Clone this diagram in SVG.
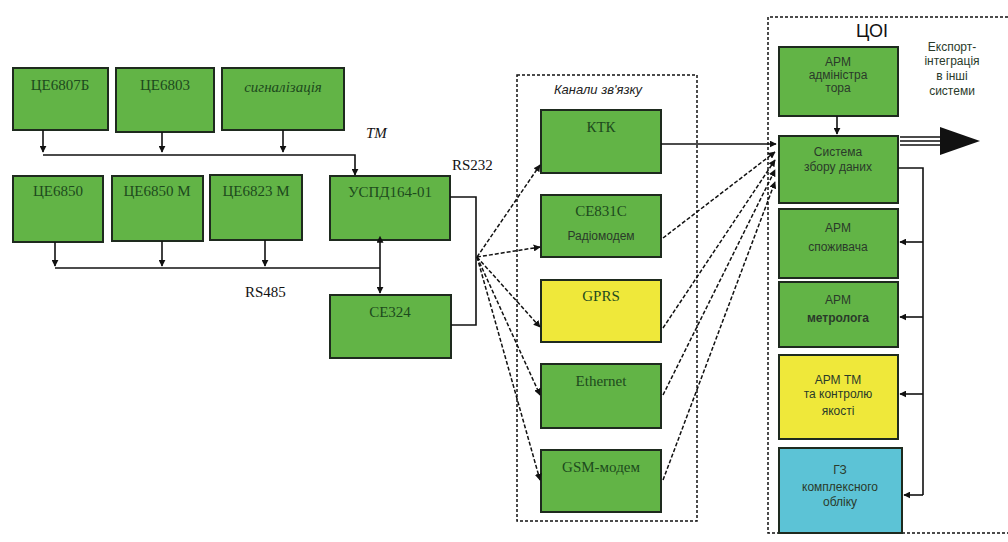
<svg xmlns="http://www.w3.org/2000/svg" width="1008" height="542" viewBox="0 0 1008 542">
<style>
.g{fill:#62b446;stroke:#1e2a1e;stroke-width:2}
.y{fill:#efe83a;stroke:#1e2a1e;stroke-width:2}
.c{fill:#5cc3d6;stroke:#1e2a1e;stroke-width:2}
.st{font-family:"Liberation Serif",serif;font-size:15px;fill:#1d4a1d;text-anchor:middle}
.ss{font-family:"Liberation Sans",sans-serif;font-size:12px;fill:#2a3a2a;text-anchor:middle}
.lb{font-family:"Liberation Serif",serif;font-size:15px;fill:#111}
.ln{fill:none;stroke:#111;stroke-width:1.6}
.dl{fill:none;stroke:#111;stroke-width:1.5;stroke-dasharray:4 2}
.fr{fill:none;stroke:#111;stroke-width:1.5;stroke-dasharray:3 2}
</style>
<defs>
<marker id="ah" viewBox="0 0 10 10" refX="9" refY="5" markerWidth="7" markerHeight="7" markerUnits="userSpaceOnUse" orient="auto">
<path d="M0,0 L10,5 L0,10 Z" fill="#111"/>
</marker>
<marker id="ahs" viewBox="0 0 10 10" refX="1" refY="5" markerWidth="7" markerHeight="7" markerUnits="userSpaceOnUse" orient="auto-start-reverse">
<path d="M0,0 L10,5 L0,10 Z" fill="#111"/>
</marker>
</defs>
<rect width="1008" height="542" fill="#fff"/>

<g id="frame-channels">
<rect x="517" y="75" width="180" height="446" class="fr"/>
<text x="598" y="94" font-family="Liberation Sans,sans-serif" font-size="13" font-style="italic" fill="#222" text-anchor="middle">Канали зв'язку</text>
</g>
<g id="frame-coi">
<path d="M1008,17 H768 V533 H1008" class="fr"/>
<text x="872" y="37" font-family="Liberation Sans,sans-serif" font-size="18" fill="#111" text-anchor="middle">ЦОІ</text>
</g>

<g id="n-ce6807b"><rect x="13" y="68" width="95" height="62" class="g"/><text x="60" y="90" class="st">ЦЕ6807Б</text></g>
<g id="n-ce6803"><rect x="116" y="68" width="98" height="64" class="g"/><text x="165" y="90" class="st">ЦЕ6803</text></g>
<g id="n-signal"><rect x="222" y="68" width="122" height="62" class="g"/><text x="283" y="92" class="st" font-style="italic" font-size="13">сигналізація</text></g>
<g id="n-ce6850"><rect x="13" y="176" width="90" height="66" class="g"/><text x="58" y="196" class="st">ЦЕ6850</text></g>
<g id="n-ce6850m"><rect x="112" y="176" width="91" height="65" class="g"/><text x="157" y="196" class="st">ЦЕ6850 М</text></g>
<g id="n-ce6823m"><rect x="210" y="175" width="92" height="65" class="g"/><text x="256" y="196" class="st">ЦЕ6823 М</text></g>
<g id="n-uspd"><rect x="330" y="176" width="120" height="64" class="g"/><text x="390" y="197" class="st">УСПД164-01</text></g>
<g id="n-ce324"><rect x="330" y="295" width="121" height="63" class="g"/><text x="390" y="317" class="st">CE324</text></g>

<g id="n-ktk"><rect x="541" y="110" width="120" height="63" class="g"/><text x="601" y="132" class="st">КТК</text></g>
<g id="n-ce831c"><rect x="541" y="195" width="120" height="62" class="g"/><text x="601" y="216" class="st">CE831C</text><text x="601" y="240" class="ss">Радіомодем</text></g>
<g id="n-gprs"><rect x="541" y="280" width="120" height="62" class="y"/><text x="601" y="301" class="st">GPRS</text></g>
<g id="n-ethernet"><rect x="541" y="364" width="120" height="64" class="g"/><text x="601" y="386" class="st">Ethernet</text></g>
<g id="n-gsm"><rect x="541" y="450" width="120" height="62" class="g"/><text x="601" y="472" class="st">GSM-модем</text></g>

<g id="n-arm-admin"><rect x="779" y="47" width="119" height="69" class="g"/><text x="838" y="66" class="ss">АРМ</text><text x="838" y="79" class="ss">адміністра</text><text x="838" y="92" class="ss">тора</text></g>
<g id="n-system"><rect x="779" y="136" width="119" height="67" class="g"/><text x="838" y="156" class="ss">Система</text><text x="838" y="171" class="ss">збору даних</text></g>
<g id="n-arm-spoz"><rect x="779" y="209" width="119" height="69" class="g"/><text x="838" y="232" class="ss">АРМ</text><text x="838" y="251" class="ss">споживача</text></g>
<g id="n-arm-metr"><rect x="779" y="282" width="119" height="65" class="g"/><text x="838" y="304" class="ss">АРМ</text><text x="838" y="322" class="ss" font-weight="bold">метролога</text></g>
<g id="n-arm-tm"><rect x="779" y="355" width="119" height="84" class="y"/><text x="838" y="384" class="ss">АРМ ТМ</text><text x="838" y="398" class="ss">та контролю</text><text x="838" y="415" class="ss">якості</text></g>
<g id="n-gz"><rect x="779" y="448" width="123" height="85" class="c"/><text x="840" y="474" class="ss">ГЗ</text><text x="840" y="491" class="ss">комплексного</text><text x="840" y="506" class="ss">обліку</text></g>

<g id="labels">
<text x="366" y="138" class="lb" font-style="italic">TM</text>
<text x="452" y="170" class="lb">RS232</text>
<text x="245" y="297" class="lb">RS485</text>
<text x="952" y="51" class="ss" fill="#444">Експорт-</text>
<text x="952" y="65" class="ss" fill="#444">інтеграція</text>
<text x="952" y="80" class="ss" fill="#444">в інші</text>
<text x="952" y="95" class="ss" fill="#444">системи</text>
</g>

<g id="connectors">
<!-- TM bus -->
<path d="M43,130 V152" class="ln" marker-end="url(#ah)"/>
<path d="M162,132 V152" class="ln" marker-end="url(#ah)"/>
<path d="M283,130 V152" class="ln" marker-end="url(#ah)"/>
<path d="M43,155 H355 V175" class="ln" marker-end="url(#ah)"/>
<!-- RS485 bus -->
<path d="M55,242 V266" class="ln" marker-end="url(#ah)"/>
<path d="M162,241 V266" class="ln" marker-end="url(#ah)"/>
<path d="M265,240 V266" class="ln" marker-end="url(#ah)"/>
<path d="M55,268 H380" class="ln" stroke-width="2.2"/>
<path d="M380,242 V293" class="ln" marker-start="url(#ahs)" marker-end="url(#ah)"/>
<!-- RS232 -->
<path d="M450,197 H476 V325 H451" class="ln"/>
<!-- fan to channels -->
<path d="M477,257 L540,165" class="dl" marker-end="url(#ah)"/>
<path d="M477,257 L540,247" class="dl" marker-end="url(#ah)"/>
<path d="M477,257 L540,327" class="dl" marker-end="url(#ah)"/>
<path d="M477,257 L540,395" class="dl" marker-end="url(#ah)"/>
<path d="M477,257 L540,480" class="dl" marker-end="url(#ah)"/>
<!-- channels to system -->
<path d="M661,144 H776" class="ln" marker-end="url(#ah)"/>
<path d="M663,238 L775,152" class="dl" marker-end="url(#ah)"/>
<path d="M663,328 L775,160" class="dl" marker-end="url(#ah)"/>
<path d="M663,395 L775,170" class="dl" marker-end="url(#ah)"/>
<path d="M663,480 L775,182" class="dl" marker-end="url(#ah)"/>
<!-- ЦОІ -->
<path d="M837,116 V134" class="ln" marker-end="url(#ah)"/>
<path d="M898,168 H923 V495" class="ln"/>
<path d="M923,242 H900" class="ln" marker-end="url(#ah)"/>
<path d="M923,317 H900" class="ln" marker-end="url(#ah)"/>
<path d="M923,394 H900" class="ln" marker-end="url(#ah)"/>
<path d="M923,495 H904" class="ln" marker-end="url(#ah)"/>
<!-- export arrow -->
<path d="M900,137 H944 M900,141 H944 M900,145 H944" class="ln" stroke-width="1.6"/>
<path d="M940,127 L980,141 L940,155 Z" fill="#111"/>
</g>
</svg>
